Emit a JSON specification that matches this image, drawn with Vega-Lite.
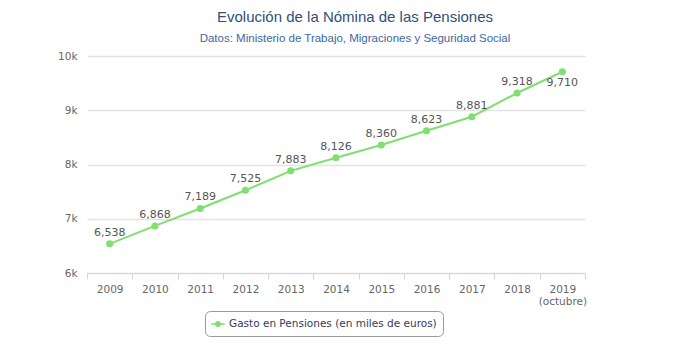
{
  "$schema": "https://vega.github.io/schema/vega-lite/v6.json",
  "autosize": "none",
  "width": 498,
  "height": 217,
  "padding": {"left": 87, "top": 56, "right": 98, "bottom": 77},
  "background": "white",
  "title": {
    "text": "Evolución de la Nómina de las Pensiones",
    "subtitle": "Datos: Ministerio de Trabajo, Migraciones y Seguridad Social",
    "anchor": "middle",
    "dx": 19,
    "offset": 7,
    "font": "Liberation Sans",
    "fontSize": 15,
    "fontWeight": "normal",
    "color": "#2f4f7a",
    "subtitleFont": "Liberation Sans",
    "subtitleFontSize": 11.5,
    "subtitleColor": "#3d67a0",
    "subtitlePadding": 8
  },
  "config": {
    "view": {"stroke": null},
    "font": "DejaVu Sans"
  },
  "data": {
    "values": [
      {"year": "2009", "value": 6538, "serie": "Gasto en Pensiones (en miles de euros)"},
      {"year": "2010", "value": 6868, "serie": "Gasto en Pensiones (en miles de euros)"},
      {"year": "2011", "value": 7189, "serie": "Gasto en Pensiones (en miles de euros)"},
      {"year": "2012", "value": 7525, "serie": "Gasto en Pensiones (en miles de euros)"},
      {"year": "2013", "value": 7883, "serie": "Gasto en Pensiones (en miles de euros)"},
      {"year": "2014", "value": 8126, "serie": "Gasto en Pensiones (en miles de euros)"},
      {"year": "2015", "value": 8360, "serie": "Gasto en Pensiones (en miles de euros)"},
      {"year": "2016", "value": 8623, "serie": "Gasto en Pensiones (en miles de euros)"},
      {"year": "2017", "value": 8881, "serie": "Gasto en Pensiones (en miles de euros)"},
      {"year": "2018", "value": 9318, "serie": "Gasto en Pensiones (en miles de euros)"},
      {"year": "2019", "value": 9710, "serie": "Gasto en Pensiones (en miles de euros)"}
    ]
  },
  "encoding": {
    "x": {
      "field": "year",
      "type": "ordinal",
      "scale": {"paddingInner": 0, "paddingOuter": 0},
      "axis": {
        "title": null,
        "labelAngle": 0,
        "labelFont": "DejaVu Sans",
        "labelFontSize": 10.5,
        "labelColor": "#666",
        "labelPadding": 5,
        "labelExpr": "datum.value == '2019' ? ['2019', '(octubre)'] : datum.value",
        "domainColor": "#ccd6eb",
        "tickColor": "#ccd6eb",
        "tickBand": "extent",
        "tickSize": 6,
        "grid": false
      }
    },
    "y": {
      "field": "value",
      "type": "quantitative",
      "scale": {"domain": [6000, 10000], "nice": false},
      "axis": {
        "title": null,
        "values": [6000, 7000, 8000, 9000, 10000],
        "format": "~s",
        "domain": false,
        "ticks": false,
        "labelFont": "DejaVu Sans",
        "labelFontSize": 10.5,
        "labelColor": "#666",
        "labelPadding": 10,
        "gridColor": "#e3e3e3",
        "gridWidth": 1.5
      }
    }
  },
  "layer": [
    {
      "mark": {"type": "line", "strokeWidth": 2, "point": {"filled": true, "size": 50}},
      "encoding": {
        "color": {
          "field": "serie",
          "type": "nominal",
          "scale": {"range": ["#7fdf6f"]},
          "legend": {
            "title": null,
            "orient": "none",
            "legendX": 118,
            "legendY": 255,
            "direction": "horizontal",
            "strokeColor": "#999",
            "cornerRadius": 5,
            "padding": 6,
            "labelFont": "DejaVu Sans",
            "labelFontSize": 10.5,
            "labelColor": "#333a5a",
            "labelLimit": 400,
            "symbolType": "M -1 -0.12 H 1 V 0.12 H -1 Z M 0.45 0 A 0.45 0.45 0 1 1 -0.45 0 A 0.45 0.45 0 1 1 0.45 0 Z",
            "symbolSize": 180,
            "symbolStrokeWidth": 0,
            "symbolFillColor": "#7fdf6f",
            "labelOffset": 4
          }
        }
      }
    },
    {
      "transform": [{"filter": "datum.year != '2019'"}],
      "mark": {"type": "text", "dy": -11, "fontSize": 11, "color": "#555", "font": "DejaVu Sans"},
      "encoding": {"text": {"field": "value", "type": "quantitative", "format": ","}}
    },
    {
      "transform": [{"filter": "datum.year == '2019'"}],
      "mark": {"type": "text", "dy": 11, "fontSize": 11, "color": "#555", "font": "DejaVu Sans"},
      "encoding": {"text": {"field": "value", "type": "quantitative", "format": ","}}
    }
  ]
}
